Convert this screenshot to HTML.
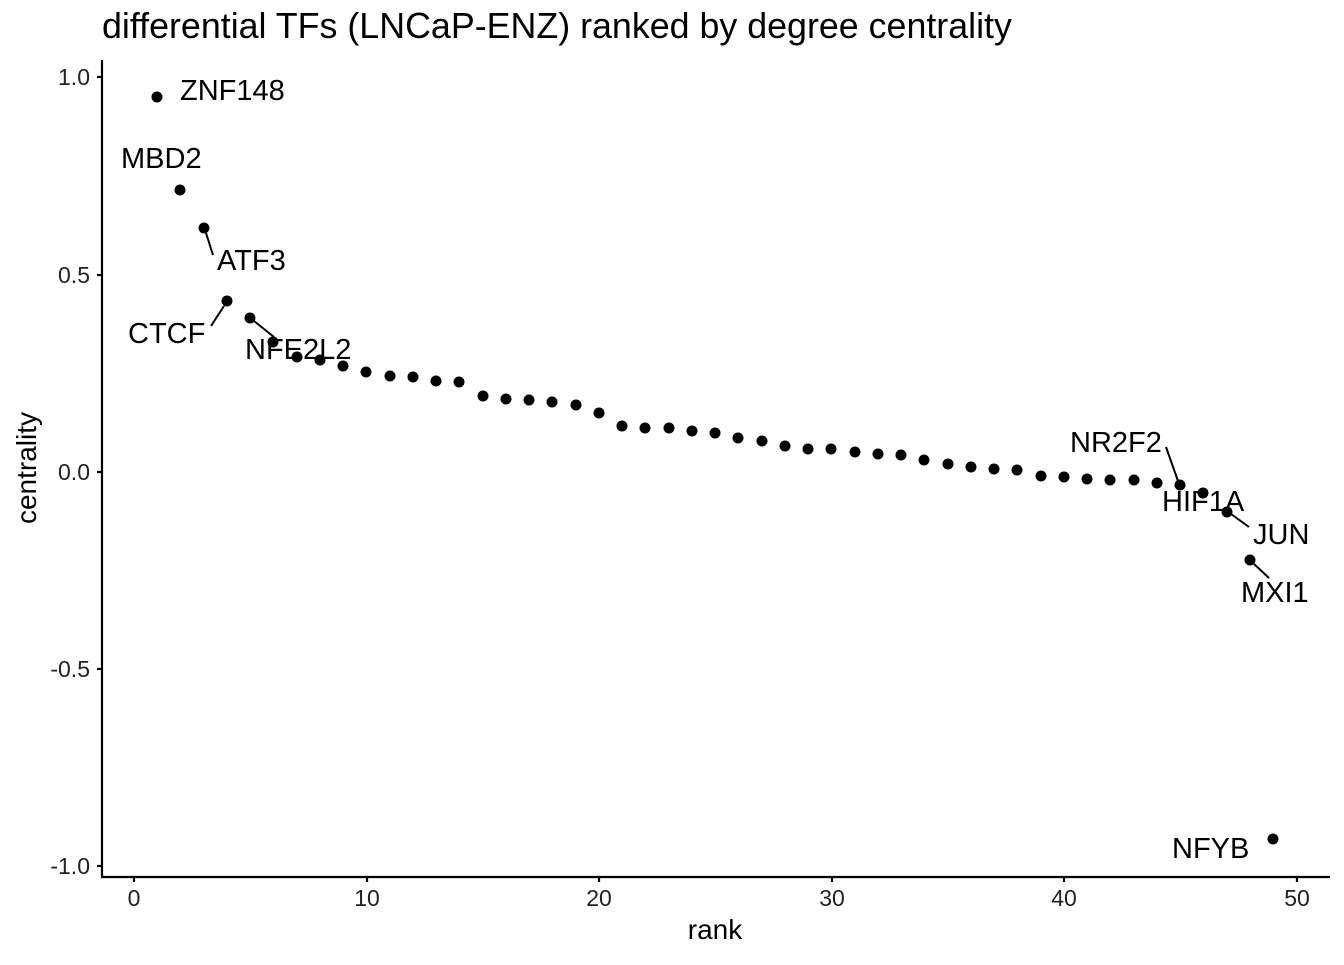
<!DOCTYPE html>
<html><head><meta charset="utf-8"><style>body{margin:0;background:#fff}</style></head><body>
<svg width="1344" height="960" xmlns="http://www.w3.org/2000/svg" font-family="Liberation Sans, sans-serif">
<rect width="1344" height="960" fill="#fff"/>
<text x="102" y="38" font-size="35.8" fill="#000">differential TFs (LNCaP-ENZ) ranked by degree centrality</text>
<g stroke="#000" stroke-width="2.2" fill="none">
<line x1="102" y1="60" x2="102" y2="878"/>
<line x1="101" y1="877" x2="1330" y2="877"/>
<line x1="97" y1="77" x2="102" y2="77"/><line x1="97" y1="275" x2="102" y2="275"/><line x1="97" y1="472" x2="102" y2="472"/><line x1="97" y1="669" x2="102" y2="669"/><line x1="97" y1="866" x2="102" y2="866"/>
<line x1="134" y1="877" x2="134" y2="882"/><line x1="367" y1="877" x2="367" y2="882"/><line x1="599" y1="877" x2="599" y2="882"/><line x1="832" y1="877" x2="832" y2="882"/><line x1="1064" y1="877" x2="1064" y2="882"/><line x1="1297" y1="877" x2="1297" y2="882"/>
</g>
<g font-size="23" fill="#222" text-anchor="end">
<text x="90" y="85">1.0</text><text x="90" y="283">0.5</text><text x="90" y="480">0.0</text><text x="90" y="677">-0.5</text><text x="90" y="874">-1.0</text>
</g>
<g font-size="23" fill="#222" text-anchor="middle">
<text x="134" y="906">0</text><text x="367" y="906">10</text><text x="599" y="906">20</text><text x="832" y="906">30</text><text x="1064" y="906">40</text><text x="1297" y="906">50</text>
</g>
<text x="715" y="939" font-size="28" text-anchor="middle">rank</text>
<text transform="translate(36,468) rotate(-90)" font-size="28" text-anchor="middle">centrality</text>
<g fill="#000">
<circle cx="157" cy="97" r="5.5"/><circle cx="180" cy="190" r="5.5"/><circle cx="204" cy="228" r="5.5"/><circle cx="227" cy="301" r="5.5"/><circle cx="250" cy="318" r="5.5"/><circle cx="273" cy="342" r="5.5"/><circle cx="297" cy="357" r="5.5"/><circle cx="320" cy="360" r="5.5"/><circle cx="343" cy="366" r="5.5"/><circle cx="366" cy="372" r="5.5"/><circle cx="390" cy="376" r="5.5"/><circle cx="413" cy="377" r="5.5"/><circle cx="436" cy="381" r="5.5"/><circle cx="459" cy="382" r="5.5"/><circle cx="483" cy="396" r="5.5"/><circle cx="506" cy="399" r="5.5"/><circle cx="529" cy="400" r="5.5"/><circle cx="552" cy="402" r="5.5"/><circle cx="576" cy="405" r="5.5"/><circle cx="599" cy="413" r="5.5"/><circle cx="622" cy="426" r="5.5"/><circle cx="645" cy="428" r="5.5"/><circle cx="669" cy="428" r="5.5"/><circle cx="692" cy="431" r="5.5"/><circle cx="715" cy="433" r="5.5"/><circle cx="738" cy="438" r="5.5"/><circle cx="762" cy="441" r="5.5"/><circle cx="785" cy="446" r="5.5"/><circle cx="808" cy="449" r="5.5"/><circle cx="831" cy="449" r="5.5"/><circle cx="855" cy="452" r="5.5"/><circle cx="878" cy="454" r="5.5"/><circle cx="901" cy="455" r="5.5"/><circle cx="924" cy="460" r="5.5"/><circle cx="948" cy="464" r="5.5"/><circle cx="971" cy="467" r="5.5"/><circle cx="994" cy="469" r="5.5"/><circle cx="1017" cy="470" r="5.5"/><circle cx="1041" cy="476" r="5.5"/><circle cx="1064" cy="477" r="5.5"/><circle cx="1087" cy="479" r="5.5"/><circle cx="1110" cy="480" r="5.5"/><circle cx="1134" cy="480" r="5.5"/><circle cx="1157" cy="483" r="5.5"/><circle cx="1180" cy="485" r="5.5"/><circle cx="1203" cy="493" r="5.5"/><circle cx="1227" cy="512" r="5.5"/><circle cx="1250" cy="560" r="5.5"/><circle cx="1273" cy="839" r="5.5"/>
</g>
<g stroke="#000" stroke-width="2">
<line x1="206" y1="233" x2="213" y2="255"/>
<line x1="224" y1="306" x2="211" y2="326"/>
<line x1="254" y1="321" x2="274" y2="337"/>
<line x1="1166" y1="447" x2="1178" y2="481"/>
<line x1="1231" y1="514" x2="1249" y2="527"/>
<line x1="1254" y1="564" x2="1269" y2="578"/>
</g>
<g font-size="29" fill="#000">
<text x="180" y="100">ZNF148</text>
<text x="121" y="168">MBD2</text>
<text x="217" y="270">ATF3</text>
<text x="128" y="343">CTCF</text>
<text x="245" y="359">NFE2L2</text>
<text x="1070" y="452">NR2F2</text>
<text x="1162" y="511">HIF1A</text>
<text x="1253" y="544">JUN</text>
<text x="1241" y="602">MXI1</text>
<text x="1172" y="858">NFYB</text>
</g>
</svg>
</body></html>
